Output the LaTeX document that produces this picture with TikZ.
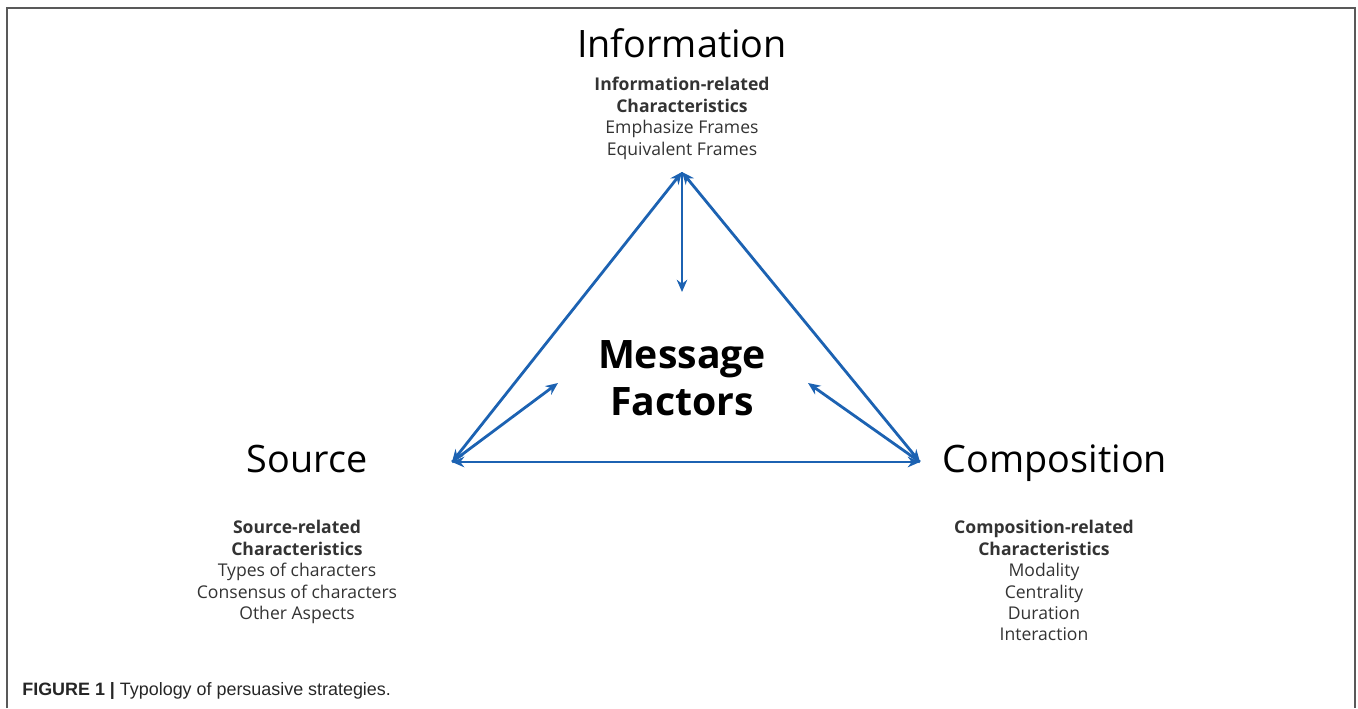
\documentclass[tikz,border=0pt]{standalone}
\usepackage{fontspec}
\usetikzlibrary{arrows.meta}
\setmainfont{Open Sans}
\newfontfamily\capfont{Liberation Sans}
\definecolor{arrowblue}{RGB}{28,98,178}
\begin{document}
\begin{tikzpicture}[x=0.02cm, y=-0.02cm,
    link/.style={draw=arrowblue, line width=1.6pt, >={Stealth[length=7pt,width=6pt]}},
    heading/.style={font=\fontsize{21.5}{25}\selectfont, inner sep=0pt, anchor=base},
    detail/.style={font=\fontsize{10}{12.2}\selectfont, align=center, text=black!80, inner sep=0pt}]
    \useasboundingbox (0,0) rectangle (1358,708);
    % Frame (open at the bottom)
    \draw[gray!70!black, line width=1.2pt] (7,708) -- (7,8) -- (1355,8) -- (1355,708);

    % Corners of the triangle
    \coordinate (top) at (682,172);
    \coordinate (left) at (452,462);
    \coordinate (right) at (920,462);

    % Headings
    \node[heading] (info) at (682,57) {Information};
    \node[heading] (source) at (307,472) {Source};
    \node[heading] (comp) at (1055,472) {Composition};

    % Centre
    \node[font=\fontsize{22.3}{27}\selectfont\bfseries, align=center, inner sep=0pt] (msg) at (682,378) {Message\\Factors};
    \coordinate (msgtop) at (682,292);
    \coordinate (msgleft) at (558,383);
    \coordinate (msgright) at (808,383);

    % Characteristics
    \node[detail, anchor=north] (infotxt) at (682,77) {\textbf{Information-related}\\\textbf{Characteristics}\\Emphasize Frames\\Equivalent Frames};
    \node[detail, anchor=north] (sourcetxt) at (297,520) {\textbf{Source-related}\\\textbf{Characteristics}\\Types of characters\\Consensus of characters\\Other Aspects};
    \node[detail, anchor=north] (comptxt) at (1044,520) {\textbf{Composition-related}\\\textbf{Characteristics}\\Modality\\Centrality\\Duration\\Interaction};

    % Arrows
    \draw[link, <->] (left) -- (top);
    \draw[link, <->] (right) -- (top);
    \draw[link, <->] (left) -- (right);
    \draw[link, ->] (top) -- (msgtop);
    \draw[link, ->] (left) -- (msgleft);
    \draw[link, ->] (right) -- (msgright);

    % Caption
    \node[anchor=west, font=\capfont\fontsize{10.2}{12}\selectfont, text=black!85, inner sep=0pt] (caption) at (22,691) {\textbf{FIGURE 1 |} Typology of persuasive strategies.};
\end{tikzpicture}
\end{document}
